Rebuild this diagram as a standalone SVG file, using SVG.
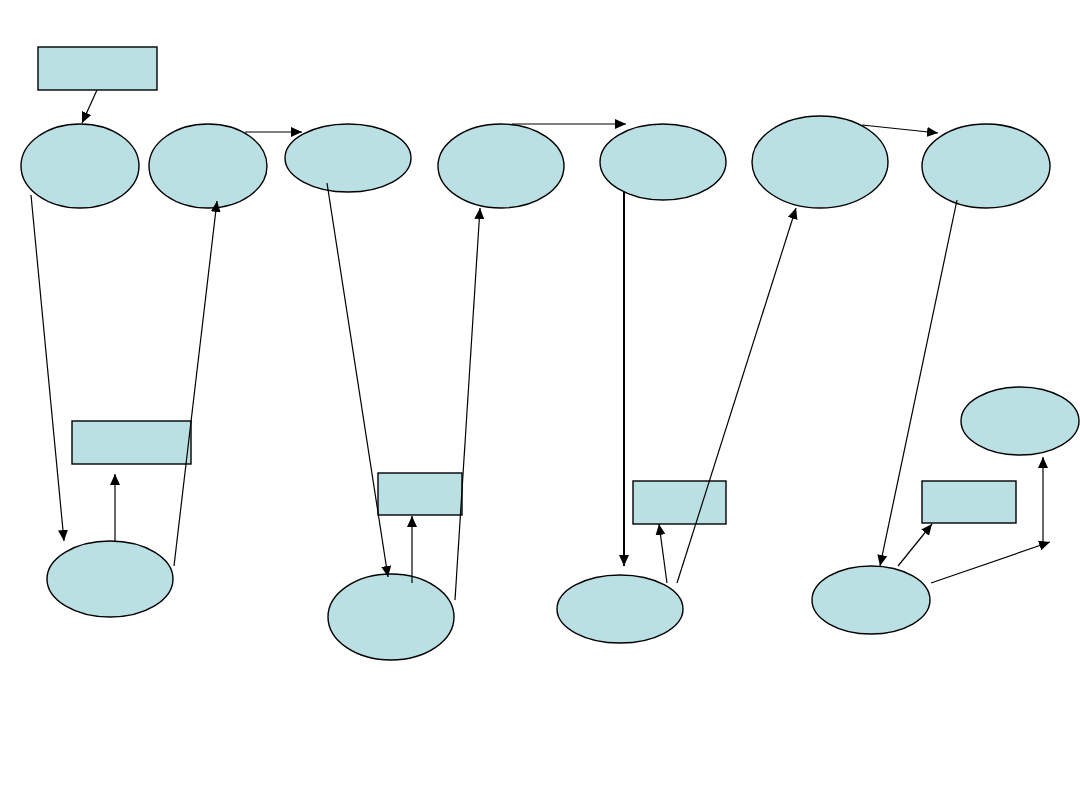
<svg xmlns="http://www.w3.org/2000/svg" width="1080" height="810" viewBox="0 0 1080 810">
<style>
.n{fill:#BBE0E3;stroke:#000;stroke-width:1.4}
.c{fill:none;stroke:#000;stroke-width:1.2;marker-end:url(#ah)}
.t{stroke-width:2}
</style>
<defs>
<marker id="ah" markerUnits="userSpaceOnUse" markerWidth="12" markerHeight="10" refX="11" refY="5" orient="auto">
<path d="M0,0 L11,5 L0,10 Z" fill="#000"/>
</marker>
</defs>
<rect width="1080" height="810" fill="#fff"/>
<g id="r1"><rect class="n" x="38" y="47" width="119" height="43"/></g>
<g id="eA"><ellipse class="n" cx="80" cy="166" rx="59" ry="42"/></g>
<g id="eB"><ellipse class="n" cx="208" cy="166" rx="59" ry="42"/></g>
<g id="eC"><ellipse class="n" cx="348" cy="158" rx="63" ry="34"/></g>
<g id="eD"><ellipse class="n" cx="501" cy="166" rx="63" ry="42"/></g>
<g id="eE"><ellipse class="n" cx="663" cy="162" rx="63" ry="38"/></g>
<g id="eF"><ellipse class="n" cx="820" cy="162" rx="68" ry="46"/></g>
<g id="eG"><ellipse class="n" cx="986" cy="166" rx="64" ry="42"/></g>
<g id="r2"><rect class="n" x="72" y="421" width="119" height="43"/></g>
<g id="eH"><ellipse class="n" cx="110" cy="579" rx="63" ry="38"/></g>
<g id="r3"><rect class="n" x="378" y="473" width="84" height="42"/></g>
<g id="eI"><ellipse class="n" cx="391" cy="617" rx="63" ry="43"/></g>
<g id="r4"><rect class="n" x="633" y="481" width="93" height="43"/></g>
<g id="eJ"><ellipse class="n" cx="620" cy="609" rx="63" ry="34"/></g>
<g id="r5"><rect class="n" x="922" y="481" width="94" height="42"/></g>
<g id="eK"><ellipse class="n" cx="871" cy="600" rx="59" ry="34"/></g>
<g id="eL"><ellipse class="n" cx="1020" cy="421" rx="59" ry="34"/></g>
<g id="connectors">
<line class="c" x1="97" y1="90" x2="82" y2="123"/>
<line class="c" x1="245" y1="132" x2="302" y2="132"/>
<line class="c" x1="512" y1="124" x2="626" y2="124"/>
<line class="c" x1="862" y1="125" x2="938" y2="133"/>
<line class="c" x1="31" y1="195" x2="64" y2="541"/>
<line class="c" x1="174" y1="566" x2="217" y2="201"/>
<line class="c" x1="115" y1="541" x2="115" y2="474"/>
<line class="c" x1="327" y1="183" x2="388" y2="577"/>
<line class="c" x1="412" y1="583" x2="412" y2="516"/>
<line class="c" x1="455" y1="600" x2="480" y2="208"/>
<line class="c t" x1="624" y1="192" x2="624" y2="566"/>
<line class="c" x1="667" y1="583" x2="659" y2="524"/>
<line class="c" x1="677" y1="583" x2="796" y2="208"/>
<line class="c" x1="957" y1="200" x2="880" y2="566"/>
<line class="c" x1="898" y1="566" x2="932" y2="524"/>
<line class="c" x1="931" y1="583" x2="1050" y2="542"/>
<line class="c" x1="1043" y1="543" x2="1043" y2="457"/>
</g>
</svg>
